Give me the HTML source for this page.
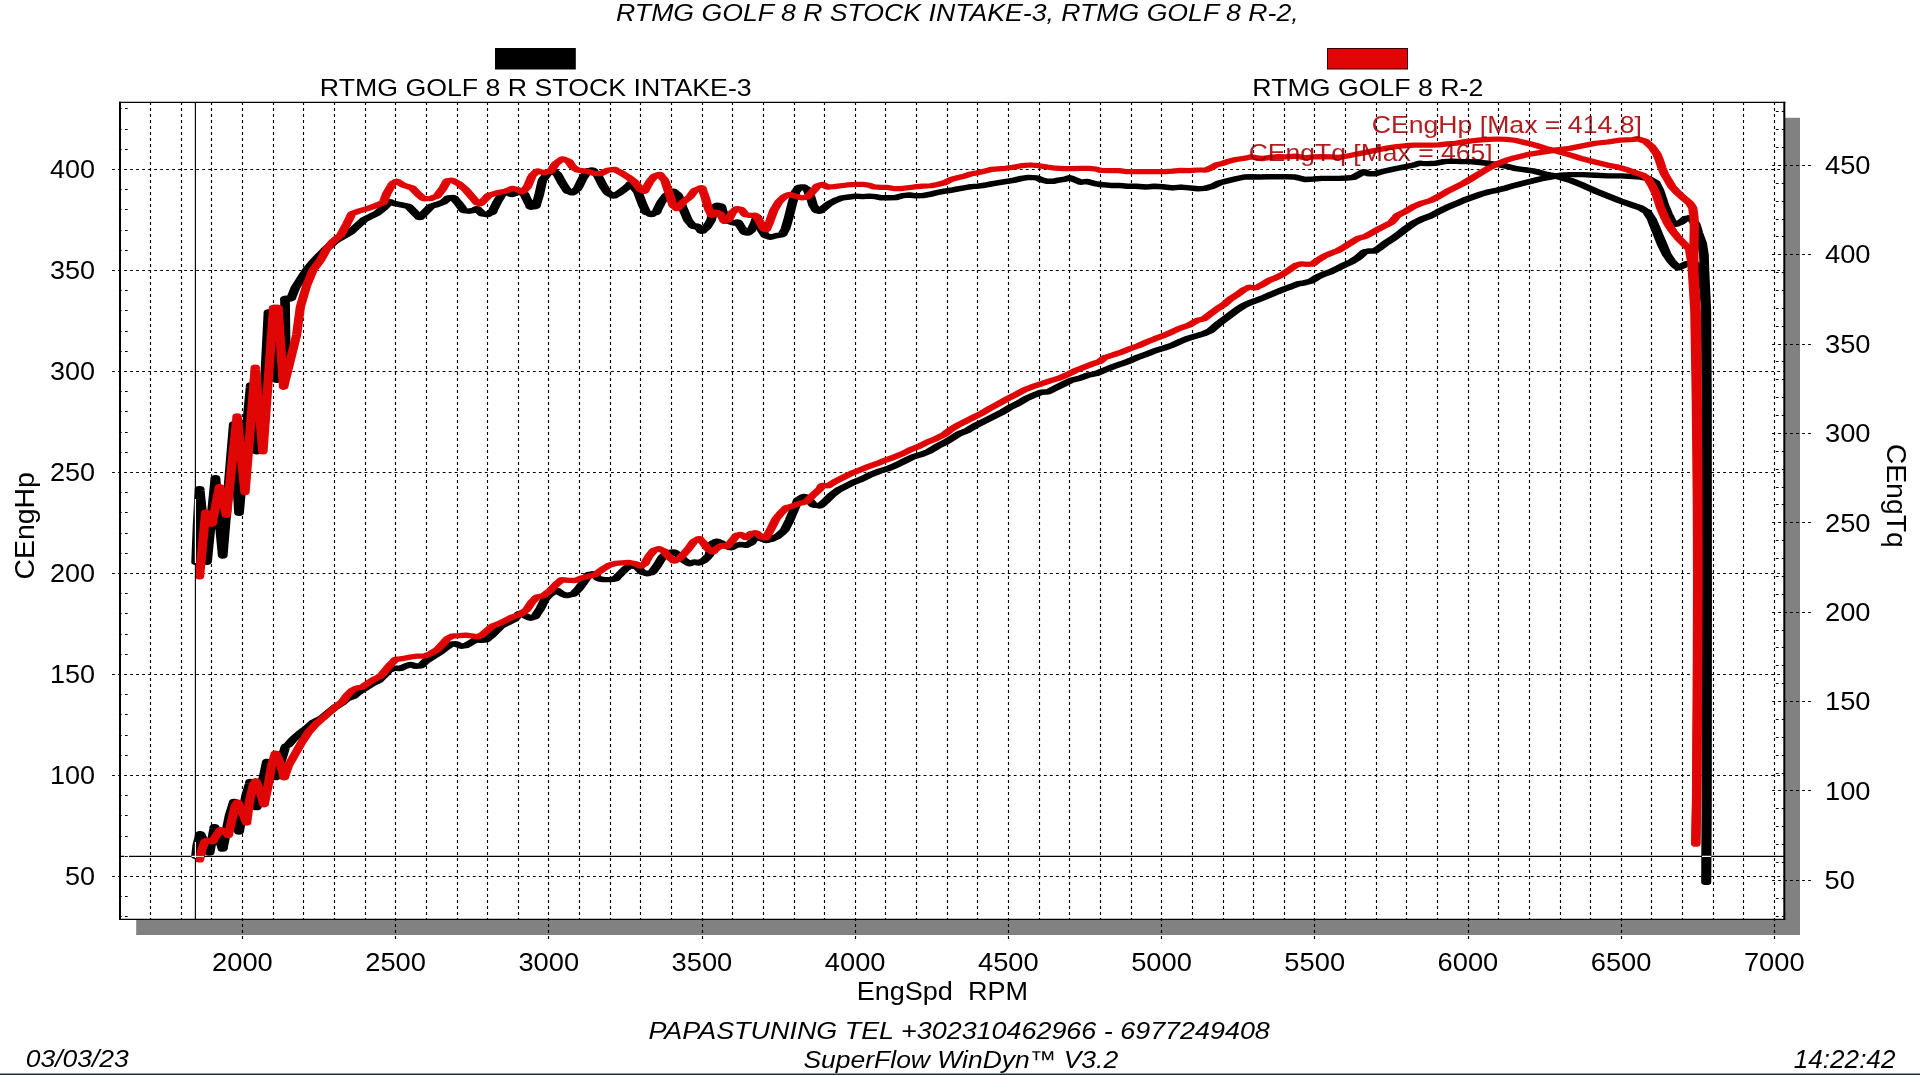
<!DOCTYPE html>
<html lang="en"><head><meta charset="utf-8"><title>SuperFlow WinDyn dyno chart</title>
<style>html,body{margin:0;padding:0;background:#fff;overflow:hidden}svg{display:block}text{font-family:"Liberation Sans",sans-serif;white-space:pre}.g{stroke:#000;stroke-width:1.15;stroke-dasharray:2.8 3.2;fill:none}.t{stroke:#000;stroke-width:1.1;stroke-dasharray:2.8 3.2;fill:none}.m{mix-blend-mode:multiply}.c{fill:none;stroke-linejoin:round;stroke-linecap:round}</style></head><body>
<svg width="1920" height="1075" viewBox="0 0 1920 1075">
<rect width="1920" height="1075" fill="#fff"/>
<rect x="1785" y="117.8" width="15" height="817.2" fill="#818181"/>
<rect x="136.2" y="920" width="1663.8" height="15" fill="#818181"/>
<g class="g">
<path d="M150.50 102.1V919.4"/>
<path d="M181.50 102.1V919.4"/>
<path d="M211.50 102.1V919.4"/>
<path d="M242.50 102.1V940.3"/>
<path d="M273.50 102.1V919.4"/>
<path d="M303.50 102.1V919.4"/>
<path d="M334.50 102.1V919.4"/>
<path d="M365.50 102.1V919.4"/>
<path d="M395.50 102.1V940.3"/>
<path d="M426.50 102.1V919.4"/>
<path d="M457.50 102.1V919.4"/>
<path d="M487.50 102.1V919.4"/>
<path d="M518.50 102.1V919.4"/>
<path d="M548.50 102.1V940.3"/>
<path d="M579.50 102.1V919.4"/>
<path d="M610.50 102.1V919.4"/>
<path d="M640.50 102.1V919.4"/>
<path d="M671.50 102.1V919.4"/>
<path d="M702.50 102.1V940.3"/>
<path d="M732.50 102.1V919.4"/>
<path d="M763.50 102.1V919.4"/>
<path d="M794.50 102.1V919.4"/>
<path d="M824.50 102.1V919.4"/>
<path d="M855.50 102.1V940.3"/>
<path d="M885.50 102.1V919.4"/>
<path d="M916.50 102.1V919.4"/>
<path d="M947.50 102.1V919.4"/>
<path d="M977.50 102.1V919.4"/>
<path d="M1008.50 102.1V940.3"/>
<path d="M1039.50 102.1V919.4"/>
<path d="M1069.50 102.1V919.4"/>
<path d="M1100.50 102.1V919.4"/>
<path d="M1131.50 102.1V919.4"/>
<path d="M1161.50 102.1V940.3"/>
<path d="M1192.50 102.1V919.4"/>
<path d="M1223.50 102.1V919.4"/>
<path d="M1253.50 102.1V919.4"/>
<path d="M1284.50 102.1V919.4"/>
<path d="M1314.50 102.1V940.3"/>
<path d="M1345.50 102.1V919.4"/>
<path d="M1376.50 102.1V919.4"/>
<path d="M1406.50 102.1V919.4"/>
<path d="M1437.50 102.1V919.4"/>
<path d="M1468.50 102.1V940.3"/>
<path d="M1498.50 102.1V919.4"/>
<path d="M1529.50 102.1V919.4"/>
<path d="M1560.50 102.1V919.4"/>
<path d="M1590.50 102.1V919.4"/>
<path d="M1621.50 102.1V940.3"/>
<path d="M1651.50 102.1V919.4"/>
<path d="M1682.50 102.1V919.4"/>
<path d="M1713.50 102.1V919.4"/>
<path d="M1743.50 102.1V919.4"/>
<path d="M1774.50 102.1V940.3"/>
</g>
<g class="g" stroke-dasharray="2.8 3.2114" style="stroke-dasharray:2.8 3.2114">
<path d="M112.1 876.50H1784.3"/>
<path d="M112.1 775.50H1784.3"/>
<path d="M112.1 674.50H1784.3"/>
<path d="M112.1 573.50H1784.3"/>
<path d="M112.1 472.50H1784.3"/>
<path d="M112.1 371.50H1784.3"/>
<path d="M112.1 270.50H1784.3"/>
<path d="M112.1 169.50H1784.3"/>
</g>
<g class="t">
<path d="M118.9 916.50H129.3"/>
<path d="M118.9 896.50H129.3"/>
<path d="M118.9 856.50H129.3"/>
<path d="M118.9 836.50H129.3"/>
<path d="M118.9 815.50H129.3"/>
<path d="M118.9 795.50H129.3"/>
<path d="M118.9 755.50H129.3"/>
<path d="M118.9 735.50H129.3"/>
<path d="M118.9 714.50H129.3"/>
<path d="M118.9 694.50H129.3"/>
<path d="M118.9 654.50H129.3"/>
<path d="M118.9 634.50H129.3"/>
<path d="M118.9 613.50H129.3"/>
<path d="M118.9 593.50H129.3"/>
<path d="M118.9 553.50H129.3"/>
<path d="M118.9 533.50H129.3"/>
<path d="M118.9 512.50H129.3"/>
<path d="M118.9 492.50H129.3"/>
<path d="M118.9 452.50H129.3"/>
<path d="M118.9 432.50H129.3"/>
<path d="M118.9 411.50H129.3"/>
<path d="M118.9 391.50H129.3"/>
<path d="M118.9 351.50H129.3"/>
<path d="M118.9 331.50H129.3"/>
<path d="M118.9 310.50H129.3"/>
<path d="M118.9 290.50H129.3"/>
<path d="M118.9 250.50H129.3"/>
<path d="M118.9 230.50H129.3"/>
<path d="M118.9 209.50H129.3"/>
<path d="M118.9 189.50H129.3"/>
<path d="M118.9 149.50H129.3"/>
<path d="M118.9 129.50H129.3"/>
<path d="M118.9 108.50H129.3"/>
</g>
<g class="t">
<path d="M1775.8 916.50H1785"/>
<path d="M1775.8 898.50H1785"/>
<path d="M1772.1 880.50H1811.2"/>
<path d="M1775.8 862.50H1785"/>
<path d="M1775.8 844.50H1785"/>
<path d="M1775.8 826.50H1785"/>
<path d="M1775.8 808.50H1785"/>
<path d="M1772.1 790.50H1811.2"/>
<path d="M1775.8 773.50H1785"/>
<path d="M1775.8 755.50H1785"/>
<path d="M1775.8 737.50H1785"/>
<path d="M1775.8 719.50H1785"/>
<path d="M1772.1 701.50H1811.2"/>
<path d="M1775.8 683.50H1785"/>
<path d="M1775.8 665.50H1785"/>
<path d="M1775.8 647.50H1785"/>
<path d="M1775.8 630.50H1785"/>
<path d="M1772.1 612.50H1811.2"/>
<path d="M1775.8 594.50H1785"/>
<path d="M1775.8 576.50H1785"/>
<path d="M1775.8 558.50H1785"/>
<path d="M1775.8 540.50H1785"/>
<path d="M1772.1 522.50H1811.2"/>
<path d="M1775.8 504.50H1785"/>
<path d="M1775.8 487.50H1785"/>
<path d="M1775.8 469.50H1785"/>
<path d="M1775.8 451.50H1785"/>
<path d="M1772.1 433.50H1811.2"/>
<path d="M1775.8 415.50H1785"/>
<path d="M1775.8 397.50H1785"/>
<path d="M1775.8 379.50H1785"/>
<path d="M1775.8 361.50H1785"/>
<path d="M1772.1 344.50H1811.2"/>
<path d="M1775.8 326.50H1785"/>
<path d="M1775.8 308.50H1785"/>
<path d="M1775.8 290.50H1785"/>
<path d="M1775.8 272.50H1785"/>
<path d="M1772.1 254.50H1811.2"/>
<path d="M1775.8 236.50H1785"/>
<path d="M1775.8 219.50H1785"/>
<path d="M1775.8 201.50H1785"/>
<path d="M1775.8 183.50H1785"/>
<path d="M1772.1 165.50H1811.2"/>
<path d="M1775.8 147.50H1785"/>
<path d="M1775.8 129.50H1785"/>
<path d="M1775.8 111.50H1785"/>
</g>
<g transform="scale(1.78,1)" class="c">
<path stroke="#000" stroke-width="5.45" d="M110.17 562.20L111.01 525.00L112.07 490.90Q112.11 486.51 112.26 490.89L116.17 560.01Q116.29 564.39 116.41 560.01L120.89 479.99Q121.01 475.61 121.13 479.99L125.00 553.71Q125.12 558.09 125.22 553.71L130.34 445.00L131.24 426.19Q131.37 421.81 131.42 426.20L134.20 511.00Q134.25 515.39 134.38 511.01L138.76 425.00L140.78 387.19Q140.90 382.81 141.00 387.19L144.00 449.51Q144.08 453.89 144.26 449.52L148.65 387.80L150.78 314.20Q150.80 309.81 150.99 314.18L155.19 377.92Q154.88 381.75 156.40 378.99L158.20 377.11Q159.71 376.53 159.46 373.83L160.56 361.00L160.13 300.70Q159.49 297.38 161.35 298.54L162.25 298.56Q163.87 299.64 163.94 296.56L165.90 287.90L169.44 277.90L172.98 268.40L177.19 259.70L182.58 250.00L188.20 241.00L196.97 232.00L201.18 225.10L204.72 219.50L211.80 213.20L215.34 208.20L217.95 203.47Q218.66 200.80 220.00 202.54L222.36 203.80L228.23 205.87Q229.61 205.74 230.31 207.86L234.91 216.04Q235.79 219.16 236.66 216.04L241.26 207.86Q241.98 205.84 243.32 205.67L245.47 204.51L249.23 202.00L251.10 199.22Q251.91 197.11 253.29 197.82L253.64 197.82Q255.09 196.98 255.68 199.49L257.70 203.68L259.78 208.62Q260.28 211.07 261.74 210.74L263.34 211.21L266.16 210.38L267.20 209.45Q268.03 207.55 268.92 210.26L269.99 212.17Q270.69 214.32 272.09 214.09L272.47 214.20Q273.75 215.23 274.79 213.58L275.41 213.03Q276.79 212.54 277.06 210.08L279.33 202.00L281.52 195.52Q281.86 192.87 283.37 193.27L283.76 193.15Q285.00 192.26 286.15 193.49L286.63 193.77Q287.81 195.20 288.96 193.70L290.41 192.73Q291.56 191.22 292.74 192.65L293.21 192.93Q294.69 192.99 294.94 195.60L296.27 200.33L297.60 205.06Q297.81 208.19 299.37 206.66L299.75 206.55Q301.40 207.06 301.33 204.09L302.85 195.30L304.46 182.38Q304.50 180.04 305.47 178.47L307.56 173.54L309.35 171.41Q310.42 168.87 311.33 171.60L312.25 172.97Q313.38 174.11 313.79 176.31L316.02 183.58L318.16 189.29Q318.60 191.69 320.02 191.81L320.49 192.10Q321.78 193.85 322.62 191.38L323.54 190.02Q324.69 188.89 325.04 186.64L327.31 178.56L329.45 172.86Q329.87 170.29 331.35 170.66L331.74 170.55Q333.13 169.23 333.83 171.74L335.78 175.21L338.60 185.26L340.74 190.96Q341.23 193.16 342.49 193.88L343.64 195.05Q344.71 197.23 345.79 195.05L348.01 192.79L351.77 187.77L353.64 184.99Q354.68 182.02 355.36 185.30L358.35 191.96L361.18 205.35L362.50 210.08Q362.78 212.54 364.16 213.03L364.77 213.58Q365.88 215.55 366.99 213.58L367.60 213.03Q368.98 212.54 369.25 210.08L371.52 202.00L373.60 197.06Q374.19 195.01 375.39 194.14L377.06 192.28Q378.16 189.83 379.06 192.53L379.98 193.90Q381.19 194.98 381.37 197.36L383.75 208.70L386.58 220.42L388.59 224.61Q389.27 227.12 390.46 226.28L390.69 226.28Q391.87 225.46 392.57 227.93L393.43 229.66Q394.19 232.83 395.20 229.90L397.07 227.12L399.43 220.42L400.84 210.38L402.03 207.18Q402.53 204.25 403.78 205.73L404.01 205.81Q405.40 205.33 405.46 208.28L406.48 213.72L407.81 218.45Q408.06 221.02 409.52 221.19L410.97 222.16Q412.17 223.51 413.18 222.56L413.42 222.47Q414.66 220.99 415.16 223.93L416.36 227.12L417.55 230.31Q418.16 232.87 419.09 232.52L419.27 232.60Q420.12 233.73 420.97 231.85L421.16 231.60Q422.15 230.89 422.56 228.50L423.88 223.77L424.86 219.13Q425.30 215.01 425.73 219.13L428.12 230.47L429.31 233.66Q429.76 236.06 431.17 236.19L431.65 236.47Q432.81 237.78 434.02 236.63L436.58 235.49L438.19 235.02Q439.71 235.43 440.02 232.74L441.29 228.79L443.17 217.07L445.05 203.68L446.59 194.07Q446.72 191.76 447.70 190.24L448.04 189.49Q448.67 187.10 449.87 187.39L450.11 187.31Q451.17 186.18 452.22 188.06L452.46 188.31Q453.80 189.00 454.02 191.45L455.40 196.98L456.81 205.35L458.01 208.54Q458.61 211.10 459.54 210.75L459.73 210.84Q460.51 212.09 461.54 209.84L462.92 207.86L465.75 203.68L469.51 200.33L473.27 197.82L477.04 196.98L480.80 196.14L484.56 196.64L488.32 196.14L492.09 196.64L494.91 197.82L499.61 197.82L503.38 197.48L507.14 195.64L510.90 194.97L514.66 195.81L518.43 195.64L522.19 194.47L525.95 192.79L530.66 191.12L534.42 190.28L538.18 188.94L541.94 187.77L545.71 186.60L549.47 186.10L553.23 185.26L557.00 183.92L564.67 181.71L569.38 180.38L574.08 178.37L577.84 177.36L582.55 177.86L585.37 180.04L588.19 181.21L591.95 181.21L594.78 180.04L598.54 179.04L600.16 178.36Q601.40 177.18 602.49 178.74L604.18 180.04L605.86 181.23Q606.96 182.54 608.24 181.89L610.77 181.55L614.53 183.39L618.29 184.56L623.94 185.40L628.64 185.40L633.35 186.24L638.05 186.24L643.69 187.07L648.40 186.24L653.10 186.74L658.74 187.91L663.45 187.07L668.15 187.91L672.86 188.75L676.62 188.41L681.32 186.24L685.08 182.89L689.79 180.71L694.49 178.70L699.20 177.03L702.96 176.69L707.66 177.03L712.37 176.69L718.01 176.69L722.71 176.69L727.42 177.03L733.21 179.54L737.92 179.04L742.62 178.37L747.32 178.37L752.03 178.37L756.73 178.03L759.26 177.58Q760.57 177.79 761.57 176.28L763.31 174.51L765.06 172.75Q766.10 170.72 767.28 172.48L767.81 172.86Q768.92 174.09 770.20 173.68L772.72 173.68L777.43 171.17L783.07 168.99L788.71 166.98L794.36 164.97L796.01 163.99Q797.15 162.90 798.42 163.38L801.88 163.63L806.59 163.30L811.29 161.62L816.00 161.12L820.70 161.62L825.40 161.62L830.11 162.29L835.75 163.30L841.39 164.47L846.10 166.14L850.80 168.32L860.99 170.86L868.04 174.00L875.10 176.51L882.15 180.28L889.21 185.30L896.26 190.95L903.32 195.98L910.37 201.00L917.43 205.39L921.66 207.91L924.13 210.54Q925.38 211.32 925.87 213.50L928.01 219.21L930.13 228.00L932.24 236.79L934.36 245.58L936.02 252.96Q936.95 257.03 935.99 252.98L928.54 222.02Q927.58 217.97 928.51 222.04L929.93 228.38L931.81 236.75L933.69 245.13L936.05 253.50L938.87 261.04L940.86 264.87Q941.80 267.01 942.33 267.05L942.47 267.17Q942.89 268.49 944.16 266.80L945.46 265.64L947.81 263.55L949.91 262.89Q951.23 261.68 952.14 263.76L952.92 264.74Q954.21 265.61 954.38 268.05L955.90 275.00L957.47 290.00L958.31 310.00L958.71 400.00L958.82 600.00L958.71 800.00L958.54 882.20"/>
<path stroke="#000" stroke-width="5.45" d="M110.11 856.30L110.84 845.00L112.16 835.93Q112.36 831.75 113.01 835.78L117.16 850.92Q117.85 854.97 117.93 850.74L120.27 828.96Q120.41 824.69 120.93 828.86L124.69 847.04Q125.20 851.21 125.36 846.94L128.99 815.30L131.09 803.60Q131.55 799.37 131.66 803.67L134.07 829.93Q134.25 834.27 134.50 829.94L138.15 796.50L140.27 783.61Q140.65 779.38 140.91 783.64L143.87 805.46Q144.17 809.74 144.43 805.45L148.76 771.40L149.69 763.65Q149.76 759.47 150.56 763.41L154.50 775.59Q155.24 779.51 155.47 775.39L160.03 748.61Q160.21 745.83 161.13 745.74L162.02 744.80L164.83 739.00L168.59 733.12L172.35 728.10L176.12 722.24L180.82 718.05L184.58 712.53L188.35 707.17L192.11 702.98L194.93 698.79L198.70 696.28L201.52 692.10L205.28 687.91L209.04 683.72L212.81 680.38L215.63 675.35L217.58 671.88Q218.31 669.96 219.60 669.51L220.12 669.14Q221.23 667.91 222.51 668.32L223.80 668.32Q225.09 668.76 226.17 667.44L227.86 666.14L229.51 665.16Q230.68 663.77 231.85 665.16L232.33 665.45Q233.47 666.56 234.73 666.00L235.09 665.95Q236.49 666.48 237.23 664.31L239.15 661.12L242.91 656.93L246.67 652.75L250.43 647.72L252.23 645.59Q253.16 643.87 254.49 644.15L254.85 644.09Q256.13 643.32 257.21 644.75L257.77 645.17Q258.85 646.60 260.13 645.83L260.49 645.76Q261.80 645.98 262.80 644.46L264.55 642.70L266.29 640.94Q267.29 639.24 268.60 640.00L270.19 640.19L271.78 640.00Q273.14 640.45 273.99 638.51L275.83 636.00L278.66 630.98L281.48 625.95L285.24 622.61L287.90 620.24Q289.15 619.60 289.81 617.59L291.02 615.07Q291.65 612.15 292.97 614.22L294.96 615.63L296.67 617.16Q297.75 618.98 298.95 617.45L299.43 617.17Q300.84 617.04 301.29 614.64L303.42 608.94L306.25 598.89L309.07 593.86L311.73 591.50Q312.87 589.41 313.86 591.74L315.65 593.86L317.30 594.84Q318.46 596.15 319.67 595.01L321.04 594.40Q322.40 594.38 323.11 592.31L325.06 588.84L327.88 582.14L330.02 576.44Q330.44 573.87 331.92 574.25L332.31 574.13Q333.70 572.81 334.40 575.33L335.47 577.24Q336.18 579.39 337.57 579.16L339.17 579.63L342.93 579.63L344.54 579.16Q345.93 579.39 346.63 577.24L348.58 573.77L351.40 568.75L353.19 566.62Q354.14 564.52 355.42 565.93L356.79 566.54Q358.15 566.56 358.86 568.63L359.93 570.54Q360.66 572.53 361.98 572.79L362.46 573.08Q363.63 574.47 364.80 573.08L365.28 572.79Q366.67 572.63 367.19 570.34L369.27 565.40L372.10 557.03L373.97 554.25Q374.78 552.27 376.14 552.57L377.45 552.28Q378.78 551.26 379.71 553.22L381.50 555.35L384.33 560.38L386.12 562.50Q387.08 564.68 388.32 563.03L388.80 562.75Q389.95 561.52 391.19 562.41L391.57 562.53Q392.85 563.56 393.90 561.90L395.61 560.38L397.56 556.91Q398.70 555.63 398.78 553.24L399.98 545.75Q399.96 543.14 401.38 542.50L401.61 542.25Q402.67 540.18 403.73 541.87L405.02 542.79L407.84 546.14L409.49 547.12Q410.70 548.66 411.77 546.83L413.49 545.30L416.31 544.47L417.91 544.94Q419.19 545.98 420.24 544.32L420.85 543.78Q422.16 543.22 422.64 540.96L423.15 539.60Q423.57 536.72 425.06 538.04L427.60 538.61L429.25 539.59Q430.40 540.81 431.64 539.92L433.24 539.44L437.01 536.10L439.84 531.68Q440.96 530.49 441.32 528.27L443.59 520.19L446.41 508.47L447.84 502.14Q448.01 499.68 449.32 498.87L450.09 497.97Q451.37 496.18 451.63 496.66L451.75 496.65Q452.09 495.96 453.11 497.69L454.14 499.08L456.16 503.27Q456.75 505.64 458.19 505.21L459.50 505.50Q460.87 506.61 461.68 504.37L463.55 501.59L467.31 494.89L471.07 489.87L474.84 486.52L479.54 482.33L484.24 478.98L488.95 474.80L493.65 471.45L498.36 468.94L503.06 465.59L507.76 461.40L512.47 457.21L517.17 454.70L521.87 451.35L526.58 446.33L531.28 442.14L535.04 437.96L538.81 433.77L543.51 430.42L548.21 425.40L552.92 421.21L557.62 417.03L562.32 412.84L567.03 407.82L571.73 403.63L576.44 398.61L581.14 394.92L584.90 392.24L587.43 392.02Q588.73 392.35 589.77 390.93L592.43 388.56L597.13 384.37L601.83 380.19L606.54 378.18L611.24 375.16L615.95 373.49L620.85 369.87L625.56 366.52L630.26 363.67L634.96 360.66L639.67 356.97L644.37 353.96L649.07 350.61L653.78 348.10L658.48 345.25L663.18 341.40L667.89 338.05L672.59 335.54L676.35 333.53L680.12 330.52L683.88 324.66L687.64 319.63L691.41 314.61L695.17 309.58L698.93 305.40L702.69 302.38L706.46 300.04L710.22 297.36L713.98 294.51L717.75 291.67L721.51 288.99L725.27 286.64L729.04 283.97L732.80 282.79L736.56 281.12L740.32 276.93L744.09 273.92L747.85 271.57L751.61 268.23L755.38 264.88L759.14 261.86L762.90 257.68L765.73 253.26Q766.52 251.27 767.88 251.45L769.49 250.98L771.07 250.98Q772.41 251.59 773.34 249.76L775.13 247.63L778.89 242.61L782.66 238.42L786.51 233.40L789.66 228.94L794.36 223.07L799.06 218.89L803.77 215.87L808.47 211.35L813.17 207.17L817.88 203.82L822.58 200.13L827.28 197.12L831.99 194.11L836.69 191.76L841.39 190.09L846.10 187.91L850.80 185.40L859.58 181.53L865.22 179.02L870.86 177.14L876.51 175.26L882.15 174.63L889.21 174.63L896.26 175.26L903.32 175.88L910.37 175.88L917.43 176.51L921.66 177.14L924.68 178.03Q925.97 178.02 926.96 179.50L929.06 181.68Q930.39 182.36 930.68 184.76L932.24 190.33L933.66 197.86L935.07 205.39L937.18 214.19L938.75 219.75Q939.10 222.14 940.25 222.85L940.46 223.10Q941.31 225.18 942.57 223.46L944.24 222.35L946.07 219.90Q946.94 218.06 948.29 218.31L948.66 218.23Q950.11 216.96 950.65 219.67L951.93 222.51Q952.92 224.03 953.04 226.35L954.12 233.02L956.23 243.07L957.29 255.00L957.53 270.00L958.60 310.00L958.88 400.00L958.99 600.00L958.88 800.00L958.65 882.20"/>
<path stroke="#e10606" stroke-width="5.2" d="M112.08 576.90L115.44 514.19Q115.34 509.93 116.13 513.95L118.53 522.25Q119.26 526.26 119.34 522.04L123.07 488.86Q123.29 484.55 123.61 488.84L126.95 513.26Q127.33 517.56 127.38 513.21L133.07 418.09Q133.20 413.71 133.33 418.09L137.51 490.51Q137.65 494.89 137.74 490.51L143.33 369.19Q143.42 364.81 143.54 369.19L147.59 449.81Q147.71 454.19 147.79 449.81L153.62 309.49Q153.20 306.20 154.82 307.30L155.07 307.30Q156.69 306.20 156.27 309.49L159.24 385.11Q159.22 389.46 159.62 385.16L166.63 335.00L168.76 306.70L172.30 285.40L175.79 270.30L180.06 260.30L183.54 249.00L187.08 241.40L190.39 236.59Q191.53 235.47 191.94 233.27L194.83 223.90L197.14 215.76Q197.40 213.23 198.84 212.98L201.18 211.30L206.12 208.80L211.07 205.70L214.20 203.35Q215.69 203.10 215.78 200.45L217.25 193.63L219.92 185.48Q220.32 183.20 221.60 182.45L221.83 182.20Q222.90 179.92 223.94 182.24L226.65 185.26L230.17 187.14Q231.51 187.31 232.23 189.33L235.12 194.47L236.99 197.25Q237.80 199.36 239.18 198.65L240.47 198.65Q241.74 199.04 242.86 197.88L244.31 196.91Q245.67 196.62 246.23 194.41L248.76 188.61L250.51 182.99Q250.80 180.29 252.33 180.71L252.71 180.60Q253.99 179.56 255.04 181.22L257.70 183.58L261.46 189.44L264.75 196.14L267.23 201.18Q268.03 203.48 268.89 203.22L269.08 203.30Q269.91 204.64 270.80 202.12L272.28 199.49L273.76 196.86Q274.47 194.84 275.81 194.67L279.33 192.79L284.04 191.12L286.64 189.38Q287.77 188.04 289.02 188.97L290.62 189.44L292.34 190.97Q293.56 193.23 294.32 190.40L295.39 188.49Q296.46 187.17 296.75 184.91L298.60 177.23Q298.86 174.90 300.04 173.80L300.96 172.43Q301.79 170.05 303.11 171.56L304.47 172.17Q305.67 173.23 306.87 172.17L308.24 171.56Q309.69 171.67 310.12 169.19L311.57 165.32Q312.10 163.21 313.27 162.23L315.01 160.06Q315.95 157.79 317.18 159.57L318.16 160.21Q319.53 160.47 320.03 162.77L320.95 165.05Q321.51 167.12 322.69 168.06L323.46 168.97Q324.39 170.69 325.72 170.41L329.19 171.02L333.90 173.54L336.42 173.54Q337.72 174.03 338.76 172.55L341.42 170.19L343.96 169.62Q345.24 168.72 346.29 170.33L348.95 172.70L352.71 176.89L356.47 181.91L359.46 188.56Q360.20 190.95 361.08 190.66L361.27 190.74Q362.24 192.27 362.71 189.19L364.94 181.91L366.96 177.72Q367.58 175.56 368.93 175.35L369.41 175.07Q370.77 173.19 371.39 176.04L372.60 178.56Q373.61 180.03 373.80 182.32L376.23 195.30L377.72 203.26Q377.82 205.71 379.07 206.73L379.50 207.33Q380.54 210.22 381.27 207.04L383.75 202.00L387.52 196.98L389.60 192.04Q390.13 189.77 391.50 189.54L393.09 188.52Q394.62 186.36 394.67 189.84L396.13 196.98L398.01 208.70L399.34 213.43Q399.69 217.07 400.86 214.02L401.28 213.42Q402.20 210.99 403.31 212.80L403.54 212.97Q404.83 213.14 405.20 215.65L406.35 219.34Q406.72 222.60 408.01 220.51L408.25 220.34Q409.53 220.17 409.90 217.66L411.05 213.97Q411.47 211.78 412.62 210.68L413.04 210.07Q413.96 207.83 415.07 209.08L415.30 209.16Q416.49 208.88 417.15 211.23L417.92 212.87Q418.50 215.23 419.93 214.92L421.53 215.40L423.12 215.40Q424.61 214.50 425.07 217.19L426.71 221.26L428.46 226.87Q429.04 229.57 429.69 229.17L429.83 229.25Q430.54 230.83 430.97 227.62L432.35 222.10L434.70 210.38L437.52 202.00L440.35 196.98L442.06 195.45Q443.12 193.71 444.37 195.00L446.93 196.14L449.50 197.28Q450.68 198.26 451.91 197.45L452.30 197.34Q453.69 197.58 454.39 195.42L456.34 191.96L458.36 187.77Q458.98 185.61 460.33 185.40L460.81 185.12Q462.02 183.58 463.09 185.40L463.70 185.95Q464.74 187.48 466.04 186.82L468.57 186.60L472.33 185.76L476.09 184.92L480.80 184.42L485.50 184.42L488.32 185.26L491.15 186.93L494.91 187.43L498.67 187.43L502.43 188.61L506.20 188.61L509.96 187.77L513.72 186.93L518.43 186.10L523.13 185.76L526.89 184.42L530.66 182.75L534.42 179.40L538.18 177.72L541.94 176.05L545.71 173.87L549.47 172.70L553.23 171.02L557.00 169.35L564.67 168.32L569.38 167.31L574.08 165.64L578.78 164.97L583.49 165.64L588.19 166.98L592.89 168.15L597.60 168.65L602.30 168.65L607.00 168.32L611.71 168.32L615.47 168.99L618.29 170.33L623.94 170.66L628.64 170.66L633.35 171.67L639.93 171.67L644.63 171.67L649.34 171.67L654.04 171.67L658.74 171.17L663.45 170.33L668.15 170.66L672.86 169.99L676.32 169.99Q677.61 170.43 678.69 169.12L680.38 167.82L683.20 164.97L686.97 163.30L690.73 161.12L694.49 159.44L699.20 158.27L701.75 157.36Q702.95 156.54 704.18 157.29L708.60 158.61L713.31 157.43L718.01 156.60L722.71 156.93L727.42 156.10L733.21 157.77L737.92 156.93L742.62 156.60L747.32 156.93L752.03 157.43L756.73 156.10L761.43 154.42L766.14 152.75L770.84 151.07L775.54 149.40L780.25 147.72L784.95 146.55L789.66 145.71L794.36 145.21L799.06 145.21L803.77 145.21L808.47 144.88L813.17 143.87L817.88 143.20L822.58 141.86L827.28 140.69L831.99 139.85L836.69 139.35L841.39 139.02L846.10 139.35L850.80 140.19L858.17 143.23L862.40 145.12L868.04 148.26L873.69 150.77L878.63 153.28L883.56 155.79L889.21 158.93L896.26 162.07L903.32 165.21L908.96 167.09L913.90 169.60L918.84 172.74L923.07 175.26L924.91 177.70Q926.07 178.74 926.53 180.91L928.01 185.30L930.13 192.84L931.54 200.37L932.95 207.91L935.07 216.70L937.18 224.23L940.00 231.77L942.83 238.05L946.35 244.33L948.30 247.79Q949.52 249.04 949.36 251.52L949.61 254.50L950.45 262.00L950.73 270.00L952.13 310.00L952.98 400.00L953.54 500.00L953.71 580.00L953.48 700.00L953.09 800.00L952.64 844.00"/>
<path stroke="#e10606" stroke-width="5.2" d="M112.08 860.00L113.48 849.30L114.79 843.16Q114.96 840.21 116.19 840.83L116.40 840.77Q117.36 840.10 118.32 841.04L118.53 841.16Q119.66 842.92 120.12 839.80L121.57 835.40L123.01 831.62Q123.57 828.75 124.67 830.07L124.88 830.13Q125.93 829.69 126.63 832.10L127.47 833.90Q128.51 837.52 128.53 833.46L130.06 821.60L131.91 807.44Q132.02 804.97 132.82 803.81L132.96 803.49Q133.66 800.25 134.10 804.01L135.67 810.30L138.08 820.96Q138.69 825.11 138.71 820.82L140.28 800.30L142.14 786.14Q142.24 783.67 143.05 782.51L143.19 782.19Q143.92 778.92 144.25 782.77L146.29 792.70L148.01 802.70Q148.43 806.93 148.62 802.65L150.51 786.50L152.64 765.10L154.35 755.20Q154.60 751.09 155.32 755.02L156.52 758.80L158.26 768.90L159.33 775.68Q159.63 779.90 160.07 775.72L162.01 765.77L165.77 754.05L169.53 742.33L173.30 732.28L177.06 724.75L180.82 718.89L184.58 713.03L188.35 707.17L192.11 702.14L194.93 695.45L197.75 690.42L200.58 687.91L202.18 687.43Q203.49 687.50 204.43 685.85L206.22 683.72L209.98 679.54L212.64 677.17Q213.90 676.53 214.55 674.52L216.57 670.33L219.39 664.47L221.34 661.00Q222.04 658.80 223.44 659.17L225.98 658.61L230.68 656.93L234.44 656.10L236.97 656.10Q238.24 656.48 239.36 655.32L241.97 653.58L245.73 649.40L248.55 644.37L250.57 640.18Q251.22 638.17 252.48 637.53L253.09 636.99Q254.13 635.56 255.43 635.89L257.96 635.67L261.72 635.16L265.49 636.00L267.09 636.48Q268.37 637.51 269.41 635.85L271.13 634.33L273.95 630.14L276.77 625.95L280.54 623.44L284.30 620.09L288.06 616.74L291.83 614.74L294.88 611.02Q296.06 610.07 296.58 607.94L298.72 602.24L300.67 598.77Q301.38 596.70 302.74 596.68L304.11 596.07Q305.41 595.93 306.29 594.22L309.07 590.52L312.83 583.82L314.70 581.04Q315.51 578.79 316.88 579.90L319.42 580.47L321.94 580.47Q323.22 580.86 324.34 579.70L326.94 577.96L330.70 576.28L333.27 575.14Q334.57 575.00 335.46 573.29L338.23 569.58L341.99 565.40L345.76 563.39L349.52 562.89L353.28 562.38L357.04 563.72L358.76 565.25Q359.89 567.29 360.92 565.11L361.16 564.85Q362.45 564.12 362.82 561.80L364.57 556.19L366.59 552.00Q367.21 549.84 368.56 549.63L369.04 549.35Q370.25 547.81 371.32 549.64L371.93 550.18Q373.19 550.82 373.84 552.84L375.86 557.03L377.73 559.80Q378.60 562.41 379.79 560.23L381.50 558.70L384.33 553.68L387.15 547.82L389.23 542.88Q389.79 540.73 391.08 540.13L391.69 539.59Q392.91 537.34 393.67 540.16L395.14 542.79L396.78 546.86Q397.34 548.94 398.52 549.87L399.29 550.78Q400.36 553.32 401.27 550.59L403.14 547.82L404.86 546.29Q405.91 544.63 407.18 545.67L407.56 545.78Q409.00 547.17 409.58 544.45L411.14 541.12L413.15 536.93Q413.83 534.61 415.02 534.88L415.25 534.80Q416.32 533.62 417.34 535.64L418.10 536.55Q419.17 539.08 420.08 536.36L421.00 534.99Q421.82 533.06 423.17 533.22L423.56 533.11Q424.91 531.86 425.73 534.15L426.65 535.52Q427.46 537.46 428.82 537.29L429.20 537.41Q430.73 538.92 431.01 535.84L433.24 528.56L436.06 518.51L438.89 512.65L440.84 509.18Q441.55 507.12 442.91 507.10L445.47 505.95L449.24 503.44L451.80 502.30Q453.16 502.28 453.87 500.21L456.76 495.07L460.52 489.21L461.15 487.27Q461.31 484.89 462.90 485.68L464.19 485.68Q465.52 486.26 466.48 484.51L469.19 481.49L473.90 477.31L478.60 473.12L483.30 469.77L488.01 466.42L492.71 463.58L497.41 460.23L502.12 457.21L506.82 453.86L511.53 449.68L516.23 446.33L520.93 442.14L525.64 438.79L530.34 434.61L534.10 429.58L537.87 425.40L542.57 421.21L547.27 417.03L551.98 412.84L556.68 407.82L561.38 403.30L566.09 398.61L570.79 394.42L575.49 389.90L580.20 386.55L584.90 383.87L589.61 381.02L594.31 378.51L599.01 375.16L603.72 370.98L608.42 367.63L613.12 364.28L617.83 361.43L619.87 358.65Q620.75 356.95 622.04 356.68L625.56 354.80L630.26 351.95L634.96 348.60L639.67 345.59L644.37 341.90L649.07 338.55L653.78 335.54L658.48 331.86L663.18 328.00L667.89 325.16L672.59 320.47L675.16 319.33Q676.46 319.19 677.34 317.47L680.12 313.77L683.88 308.75L687.64 304.56L691.41 298.70L695.17 294.51L698.93 289.49L700.62 288.19Q701.71 286.79 702.99 287.48L704.28 287.65Q705.58 288.39 706.62 286.83L709.28 284.47L713.04 280.28L716.81 277.77L720.57 274.42L724.33 269.90L727.08 266.47Q728.00 264.86 729.29 264.64L730.92 263.87L734.68 264.37L736.27 264.09Q737.62 264.41 738.50 262.57L740.32 260.19L744.09 256.00L747.85 253.15L751.61 250.64L755.38 246.79L759.14 242.61L762.90 238.42L766.66 236.74L770.43 233.06L774.19 229.21L777.95 225.86L780.61 223.50Q781.87 222.87 782.50 220.82L784.16 217.24Q784.79 215.18 786.06 214.56L789.66 211.35L794.36 206.33L799.06 202.98L803.77 200.47L808.47 196.28L813.17 191.26L817.88 187.07L822.58 182.89L827.28 177.86L831.99 172.84L836.69 167.82L841.39 163.63L846.10 160.28L850.80 157.77L858.17 154.53L864.52 152.65L873.69 150.14L882.15 148.26L889.21 145.74L896.26 143.23L903.32 141.98L910.37 140.09L917.43 139.47L919.02 139.11Q920.28 138.35 921.42 139.53L923.31 140.65Q924.61 140.96 925.40 142.82L928.01 147.00L930.83 153.91L932.24 160.19L933.66 167.72L935.07 174.00L937.18 180.28L939.30 186.56L942.12 192.21L945.65 197.86L949.18 202.88L950.29 206.04Q951.18 207.75 951.12 210.08L951.65 216.70L951.86 226.74L951.72 239.30L951.65 255.00L951.63 270.00L952.98 310.00L953.54 400.00L953.88 500.00L953.93 580.00L953.65 700.00L953.20 800.00L952.75 844.00"/>
</g>
<path d="M195.4 102.4V919.4" stroke="#000" stroke-width="1.15" fill="none"/>
<path d="M121 856.4H124.2M129 856.4H1784.3" stroke="#000" stroke-width="1.1" fill="none"/>
<path d="M195.4 499V563M195.4 842V858M191.5 856.4H196M1702 856.4H1711.3" stroke="#fff" stroke-width="1.15" fill="none"/>
<path d="M196 856.4H204" stroke="#ffd6d6" stroke-width="1.1" fill="none"/>
<path d="M120.0 920.0V101.80000000000001" stroke="#000" stroke-width="2" fill="none"/>
<path d="M1784.3 920.0V101.80000000000001" stroke="#000" stroke-width="2" fill="none"/>
<path d="M119.0 102.4H1785.3" stroke="#000" stroke-width="1.3" fill="none"/>
<path d="M119.0 919.4H1785.3" stroke="#000" stroke-width="1.3" fill="none"/>
<rect x="495" y="48" width="80.8" height="21.5" fill="#000"/>
<rect x="1327.5" y="48.5" width="80" height="20.5" fill="#e00606" stroke="#3a0000" stroke-width="1"/>
<text transform="translate(616.10,21.40) scale(1.0951,1)" style="font-size:24.35px;font-style:italic;fill:#000" >RTMG GOLF 8 R STOCK INTAKE-3, RTMG GOLF 8 R-2,</text>
<text transform="translate(319.86,95.60) scale(1.0844,1)" style="font-size:24.64px;fill:#000" >RTMG GOLF 8 R STOCK INTAKE-3</text>
<text transform="translate(1252.36,95.60) scale(1.0838,1)" style="font-size:24.64px;fill:#000" >RTMG GOLF 8 R-2</text>
<text transform="translate(1371.67,132.60) scale(1.1076,1)" style="font-size:24.06px;fill:#b31c1f" class="m">CEngHp [Max = 414.8]</text>
<text transform="translate(1248.67,161.30) scale(1.1242,1)" style="font-size:23.62px;fill:#b31c1f" class="m">CEngTq [Max = 465]</text>
<text transform="translate(64.95,885.05) scale(1.0777,1)" style="font-size:25.07px;fill:#000">50</text>
<text transform="translate(49.96,784.05) scale(1.0777,1)" style="font-size:25.07px;fill:#000">100</text>
<text transform="translate(49.96,683.05) scale(1.0777,1)" style="font-size:25.07px;fill:#000">150</text>
<text transform="translate(49.96,582.05) scale(1.0777,1)" style="font-size:25.07px;fill:#000">200</text>
<text transform="translate(49.96,481.05) scale(1.0777,1)" style="font-size:25.07px;fill:#000">250</text>
<text transform="translate(49.96,380.05) scale(1.0777,1)" style="font-size:25.07px;fill:#000">300</text>
<text transform="translate(49.96,279.05) scale(1.0777,1)" style="font-size:25.07px;fill:#000">350</text>
<text transform="translate(49.96,178.05) scale(1.0777,1)" style="font-size:25.07px;fill:#000">400</text>
<text transform="translate(1824.61,888.95) scale(1.0901,1)" style="font-size:25.07px;fill:#000">50</text>
<text transform="translate(1824.95,799.59) scale(1.0901,1)" style="font-size:25.07px;fill:#000">100</text>
<text transform="translate(1824.95,710.22) scale(1.0901,1)" style="font-size:25.07px;fill:#000">150</text>
<text transform="translate(1824.95,620.86) scale(1.0901,1)" style="font-size:25.07px;fill:#000">200</text>
<text transform="translate(1824.95,531.50) scale(1.0901,1)" style="font-size:25.07px;fill:#000">250</text>
<text transform="translate(1824.95,442.14) scale(1.0901,1)" style="font-size:25.07px;fill:#000">300</text>
<text transform="translate(1824.95,352.77) scale(1.0901,1)" style="font-size:25.07px;fill:#000">350</text>
<text transform="translate(1824.95,263.41) scale(1.0901,1)" style="font-size:25.07px;fill:#000">400</text>
<text transform="translate(1824.95,174.05) scale(1.0901,1)" style="font-size:25.07px;fill:#000">450</text>
<text transform="translate(212.04,970.65) scale(1.0764,1)" style="font-size:25.35px;fill:#000">2000</text>
<text transform="translate(365.23,970.65) scale(1.0764,1)" style="font-size:25.35px;fill:#000">2500</text>
<text transform="translate(518.42,970.65) scale(1.0764,1)" style="font-size:25.35px;fill:#000">3000</text>
<text transform="translate(671.61,970.65) scale(1.0764,1)" style="font-size:25.35px;fill:#000">3500</text>
<text transform="translate(824.80,970.65) scale(1.0764,1)" style="font-size:25.35px;fill:#000">4000</text>
<text transform="translate(977.99,970.65) scale(1.0764,1)" style="font-size:25.35px;fill:#000">4500</text>
<text transform="translate(1131.18,970.65) scale(1.0764,1)" style="font-size:25.35px;fill:#000">5000</text>
<text transform="translate(1284.37,970.65) scale(1.0764,1)" style="font-size:25.35px;fill:#000">5500</text>
<text transform="translate(1437.56,970.65) scale(1.0764,1)" style="font-size:25.35px;fill:#000">6000</text>
<text transform="translate(1590.75,970.65) scale(1.0764,1)" style="font-size:25.35px;fill:#000">6500</text>
<text transform="translate(1743.94,970.65) scale(1.0764,1)" style="font-size:25.35px;fill:#000">7000</text>
<text transform="translate(33.50,579.62) rotate(-90) scale(1.0444,1)" style="font-size:27.25px;fill:#000">CEngHp</text>
<text transform="translate(1887.00,443.68) rotate(90) scale(1.0151,1)" style="font-size:27.97px;fill:#000">CEngTq</text>
<text transform="translate(856.64,999.70) scale(1.0856,1)" style="font-size:24.93px;fill:#000" >EngSpd  RPM</text>
<text transform="translate(648.39,1038.70) scale(1.1126,1)" style="font-size:24.20px;font-style:italic;fill:#000" >PAPASTUNING TEL +302310462966 - 6977249408</text>
<text transform="translate(803.40,1067.50) scale(1.0950,1)" style="font-size:24.20px;font-style:italic;fill:#000" >SuperFlow WinDyn™ V3.2</text>
<text transform="translate(25.71,1067.46) scale(1.1060,1)" style="font-size:23.95px;font-style:italic;fill:#000" >03/03/23</text>
<text transform="translate(1793.85,1067.70) scale(1.0382,1)" style="font-size:25.14px;font-style:italic;fill:#000" >14:22:42</text>
<rect x="0" y="1073.5" width="1920" height="1.5" fill="#1f2f38"/>
</svg></body></html>
